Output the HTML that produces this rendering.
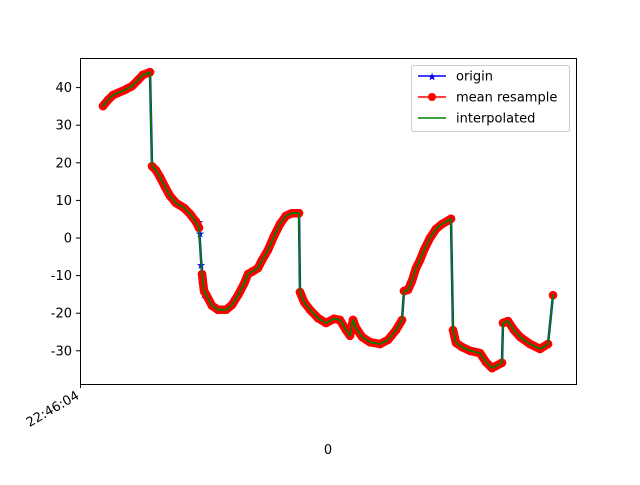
<!DOCTYPE html>
<html><head><meta charset="utf-8"><style>
body{margin:0;background:#fff}
svg text{font-family:"DejaVu Sans","Liberation Sans",sans-serif;font-size:13px;fill:#000}
</style></head><body>
<svg width="640" height="480" xmlns="http://www.w3.org/2000/svg">
<rect width="640" height="480" fill="#fff"/>
<g id="plot"></g>
<rect x="80.5" y="58.5" width="496" height="326" fill="none" stroke="#000" stroke-width="1"/>
<g id="yticks"></g>
<line x1="80.5" y1="384" x2="80.5" y2="388" stroke="#000"/>
<text x="80" y="398" text-anchor="end" transform="rotate(-30 80 398)">22:46:04</text>
<text x="328" y="454" text-anchor="middle">0</text>
<g>
<rect x="411.5" y="65.5" width="158" height="66" rx="2" fill="#fff" fill-opacity="0.8" stroke="#ccc"/>
<g>
<line x1="418" y1="76" x2="446" y2="76" stroke="#0000ff" stroke-width="1.5"/>
<text x="432" y="80.5" text-anchor="middle" style="font-size:11px;fill:#0000ff">★</text>
<text x="456" y="80.5">origin</text></g>
<g>
<line x1="418" y1="97" x2="446" y2="97" stroke="#ff0000" stroke-width="1.5"/>
<circle cx="432" cy="97" r="4" fill="#ff0000"/>
<text x="456" y="101.5">mean resample</text></g>
<g>
<line x1="418" y1="118" x2="446" y2="118" stroke="#008000" stroke-width="1.5"/>
<text x="456" y="122.5">interpolated</text></g>
</g>
</svg>
<script>
const times=[23,28,33,38,45,52,58,63,70,72,76,80,85,90,96,104,110,116,119,122,124,128,132,138,146,152,158,164,168,172,178,182,188,194,200,206,212,219,220,224,230,238,246,254,260,266,270,273,276,282,290,300,308,316,322,324,328,332,336,340,344,350,356,362,371,373,376,382,390,400,406,412,422,423,428,434,440,450,460,468,473];
const values=[35.1,36.7,38,38.6,39.4,40.4,42,43.4,44.1,19.1,18,16.2,13.6,11.2,9.3,8,6.4,4.3,2.7,-9.6,-14,-16,-18,-19.1,-19.1,-17.8,-15.2,-12.2,-9.6,-9,-8,-5.9,-3.2,0.5,3.7,5.9,6.6,6.6,-14.4,-17,-19.1,-21.3,-22.6,-21.5,-21.8,-24.5,-26,-21.8,-23.9,-26.3,-27.7,-28.2,-27.1,-24.5,-21.8,-14.1,-13.8,-11.4,-8,-5.9,-3.2,0,2.4,3.7,5.1,-24.5,-27.9,-29,-30,-30.6,-33,-34.6,-33.2,-22.6,-22.1,-24.5,-26.3,-28.2,-29.5,-28.2,-15.2];
const starTimes=[119,120,121,122,124];
const starValues=[4.2,1.2,-7.2,-12,-15];
const yTicks=[-30,-20,-10,0,10,20,30,40];
const xS=t=>80+t;
const yS=v=>238-v*3.76;
const NS="http://www.w3.org/2000/svg";
const plot=document.getElementById('plot');
const pts=times.map((t,i)=>xS(t).toFixed(1)+","+yS(values[i]).toFixed(1)).join(" ");
function pl(stroke,w,name){const p=document.createElementNS(NS,'polyline');
p.setAttribute('points',pts);p.setAttribute('fill','none');p.setAttribute('stroke',stroke);
p.setAttribute('stroke-width',w);p.setAttribute('stroke-linejoin','round');p.setAttribute('stroke-linecap','round');


plot.appendChild(p);}
pl('#0000ff',2.5,'origin-line');
starTimes.forEach((t,i)=>{const s=document.createElementNS(NS,'text');
s.setAttribute('x',xS(t));s.setAttribute('y',yS(starValues[i])+4);s.setAttribute('text-anchor','middle');
s.setAttribute('style','font-size:11px;fill:#0000ff');s.textContent='★';


plot.appendChild(s);});
const segs=[];let cur=[];
times.forEach((t,i)=>{if(i>0&&Math.abs(values[i]-values[i-1])>6){segs.push(cur);cur=[];}cur.push(xS(t).toFixed(1)+","+yS(values[i]).toFixed(1));});
segs.push(cur);
segs.forEach(s=>{const p=document.createElementNS(NS,'polyline');
p.setAttribute('points',s.join(" "));p.setAttribute('fill','none');p.setAttribute('stroke','#ff0000');
p.setAttribute('stroke-width',8.5);p.setAttribute('stroke-linejoin','round');p.setAttribute('stroke-linecap','round');


plot.appendChild(p);});
times.forEach((t,i)=>{const c=document.createElementNS(NS,'circle');
c.setAttribute('cx',xS(t));c.setAttribute('cy',yS(values[i]));c.setAttribute('r',4.3);c.setAttribute('fill','#ff0000');


plot.appendChild(c);});
pl('#ff0000',1.5,'mean-resample-line');
pl('#008000',1.8,'interpolated-line');
const yt=document.getElementById('yticks');
yTicks.forEach(v=>{const y=yS(v);
const l=document.createElementNS(NS,'line');l.setAttribute('x1',76);l.setAttribute('x2',80);l.setAttribute('y1',y);l.setAttribute('y2',y);l.setAttribute('stroke','#000');


yt.appendChild(l);
const tx=document.createElementNS(NS,'text');tx.setAttribute('x',72);tx.setAttribute('y',y+4.5);tx.setAttribute('text-anchor','end');tx.textContent=v;


yt.appendChild(tx);});
</script>
</body></html>
